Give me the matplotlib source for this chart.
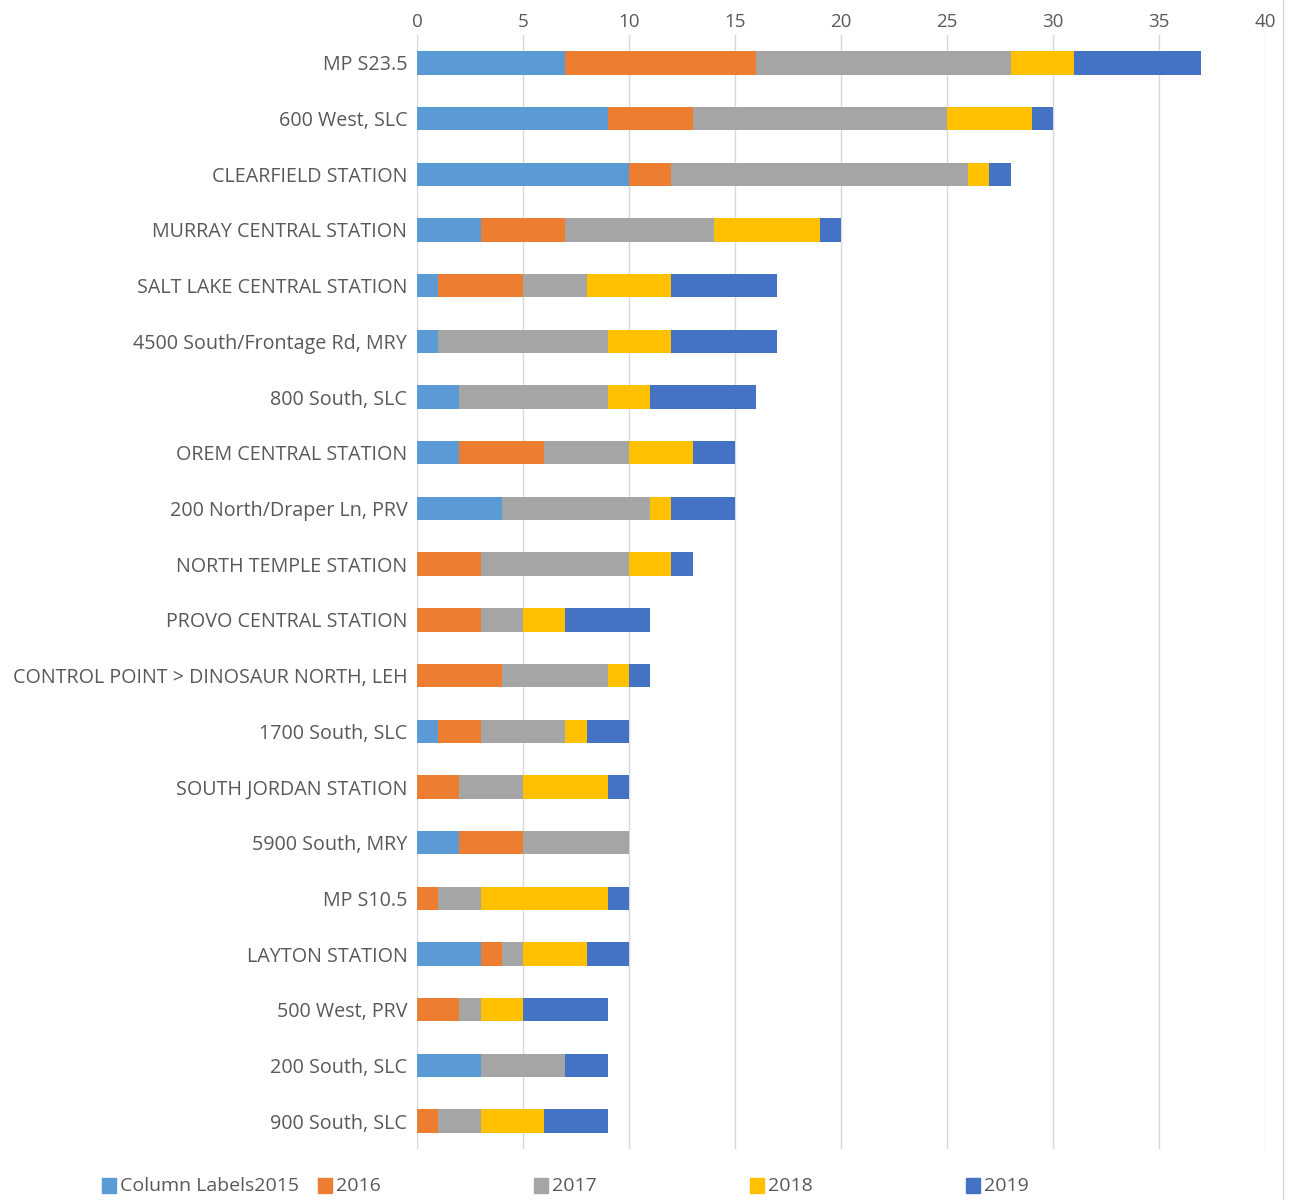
import matplotlib.pyplot as plt
from matplotlib.patches import Rectangle
from matplotlib.lines import Line2D

plt.rcParams['font.family'] = ['Open Sans', 'DejaVu Sans']

# --- data ---
stations = [
    'MP S23.5', '600 West, SLC', 'CLEARFIELD STATION', 'MURRAY CENTRAL STATION',
    'SALT LAKE CENTRAL STATION', '4500 South/Frontage Rd, MRY', '800 South, SLC',
    'OREM CENTRAL STATION', '200 North/Draper Ln, PRV', 'NORTH TEMPLE STATION',
    'PROVO CENTRAL STATION', 'CONTROL POINT > DINOSAUR NORTH, LEH', '1700 South, SLC',
    'SOUTH JORDAN STATION', '5900 South, MRY', 'MP S10.5', 'LAYTON STATION',
    '500 West, PRV', '200 South, SLC', '900 South, SLC',
]
y2015 = [7, 9, 10, 3, 1, 1, 2, 2, 4, 0, 0, 0, 1, 0, 2, 0, 3, 0, 3, 0]
y2016 = [9, 4, 2, 4, 4, 0, 0, 4, 0, 3, 3, 4, 2, 2, 3, 1, 1, 2, 0, 1]
y2017 = [12, 12, 14, 7, 3, 8, 7, 4, 7, 7, 2, 5, 4, 3, 5, 2, 1, 1, 4, 2]
y2018 = [3, 4, 1, 5, 4, 3, 2, 3, 1, 2, 2, 1, 1, 4, 0, 6, 3, 2, 0, 3]
y2019 = [6, 1, 1, 1, 5, 5, 5, 2, 3, 1, 4, 1, 2, 1, 0, 1, 2, 4, 2, 3]

years = ['2015', '2016', '2017', '2018', '2019']
series = [y2015, y2016, y2017, y2018, y2019]
colors = ['#5B9BD5', '#ED7D31', '#A5A5A5', '#FFC000', '#4472C4']
legend_labels = ['Column Labels2015', '2016', '2017', '2018', '2019']

text_color = '#595959'

fig = plt.figure(figsize=(12.89, 12.0), dpi=100)
ax = fig.add_axes([417 / 1289, 1 - 1149 / 1200, (1265 - 417) / 1289, (1149 - 35) / 1200])

pos = list(range(len(stations)))
left = [0] * len(stations)
for vals, col, yr in zip(series, colors, years):
    ax.barh(pos, vals, left=left, height=0.42, color=col, label=yr, zorder=3)
    left = [a + b for a, b in zip(left, vals)]

ax.set_ylim(len(stations) - 0.5, -0.5)
ax.set_xlim(0, 40)
ax.set_xticks(range(0, 41, 5))
ax.set_yticks(pos)
ax.set_yticklabels(stations, fontsize=14.2, color=text_color)
ax.xaxis.tick_top()
ax.tick_params(axis='x', labelsize=13.5, colors=text_color, length=0, pad=3)
ax.tick_params(axis='y', length=0, pad=7)
ax.grid(axis='x', color='#D9D9D9', linewidth=1, zorder=0)
for s in ax.spines.values():
    s.set_visible(False)

# legend laid out like the Excel export (evenly spaced entries)
for i, (lab, col) in enumerate(zip(legend_labels, colors)):
    x0 = (102 + i * 216) / 1289
    fig.patches.append(Rectangle((x0, 1 - 1193 / 1200), 14 / 1289, 15 / 1200,
                                 transform=fig.transFigure, color=col))
    fig.text(x0 + 18 / 1289, 1 - 1186 / 1200, lab, fontsize=14, color=text_color,
             va='center', ha='left')

# faint chart border on the right
fig.add_artist(Line2D([1283 / 1289, 1283 / 1289], [0, 1], transform=fig.transFigure,
                      color='#D9D9D9', linewidth=1))

fig.savefig('out.png', dpi=100)
